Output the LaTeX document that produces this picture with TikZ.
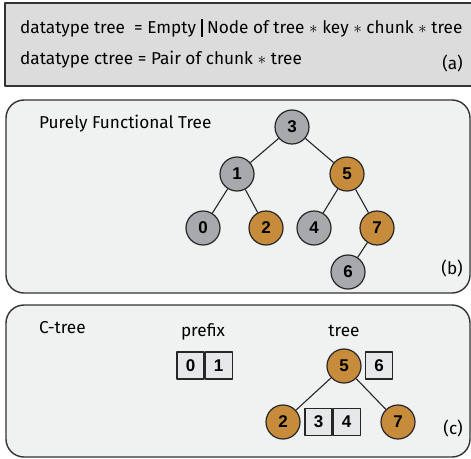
\documentclass[tikz,border=0pt]{standalone}
\usepackage{fontspec}
\setmainfont{Fira Sans}
\newfontfamily\keyfont{Liberation Sans}
\usetikzlibrary{positioning}
\definecolor{panelgray}{HTML}{DCDCDC}
\definecolor{panellight}{HTML}{F0F1F1}
\definecolor{keygray}{HTML}{A7A9AC}
\definecolor{keyorange}{HTML}{C68C3C}
\definecolor{cellgray}{HTML}{E6E7E8}

\begin{document}
\begin{tikzpicture}[x=1pt,y=-1pt,line join=round,
    panel/.style={draw=black!80,line width=1.4pt,fill=panellight,rounded corners=18pt},
    key/.style={circle,draw=black!85,line width=1.2pt,minimum size=34pt,inner sep=0pt,
                font=\keyfont\bfseries\fontsize{17}{17}\selectfont},
    gkey/.style={key,fill=keygray},
    okey/.style={key,fill=keyorange},
    cell/.style={draw=black!85,line width=1.2pt,fill=cellgray,minimum size=27pt,inner sep=0pt,
                 font=\keyfont\bfseries\fontsize{17}{17}\selectfont},
    txt/.style={font=\fontsize{17.2}{20}\selectfont,inner sep=0pt},
    edge/.style={draw=black!85,line width=1.1pt}]
    \useasboundingbox (0,0) rectangle (471,458);

    % (a) datatypes
    \draw[draw=black!80,line width=1.4pt,fill=panelgray] (5,3) rectangle (474,86);
    \node[txt,anchor=base west] (deftree) at (20,33)
        {datatype tree\ \ = Empty \rule[-0.22em]{2pt}{1.05em} Node of tree $\ast$ key $\ast$ chunk $\ast$ tree};
    \node[txt,anchor=base west] (defctree) at (20,64)
        {datatype ctree = Pair of chunk $\ast$ tree};
    \node[txt,anchor=base east] (taga) at (463,69) {(a)};

    % (b) purely functional tree
    \draw[panel] (6,100) rectangle (470,293);
    \node[txt,anchor=base west] (titleb) at (39,128) {Purely Functional Tree};
    \node[txt,anchor=base east] (tagb) at (463,274) {(b)};
    \node[gkey] (b3) at (292,127) {3};
    \node[gkey] (b1) at (237,174) {1};
    \node[okey] (b5) at (347,174) {5};
    \node[gkey] (b0) at (203,228) {0};
    \node[okey] (b2) at (266,228) {2};
    \node[gkey] (b4) at (314,228) {4};
    \node[okey] (b7) at (377,228) {7};
    \node[gkey] (b6) at (348,272) {6};
    \foreach \a/\b in {b3/b1,b3/b5,b1/b0,b1/b2,b5/b4,b5/b7,b7/b6}
        \path[edge] (\a) -- (\b);

    % (c) c-tree
    \draw[panel] (6,305) rectangle (470,457);
    \node[txt,anchor=base west] (titlec) at (39,333) {C-tree};
    \node[txt,anchor=base] (prefix) at (203,336) {prefix};
    \node[txt,anchor=base] (treelbl) at (344,336) {tree};
    \node[txt,anchor=base east] (tagc) at (463,434) {(c)};
    \node[cell] (p0) at (190.5,365.5) {0};
    \node[cell,right=0pt of p0] (p1) {1};
    \node[okey] (c5) at (344,366) {5};
    \node[cell] (c6) at (379,365.5) {6};
    \node[okey] (c2) at (283,422) {2};
    \node[okey] (c7) at (398,422) {7};
    \node[cell] (c3) at (318.5,422) {3};
    \node[cell,right=0pt of c3] (c4) {4};
    \path[edge] (c5) -- (c2);
    \path[edge] (c5) -- (c7);
\end{tikzpicture}
\end{document}
